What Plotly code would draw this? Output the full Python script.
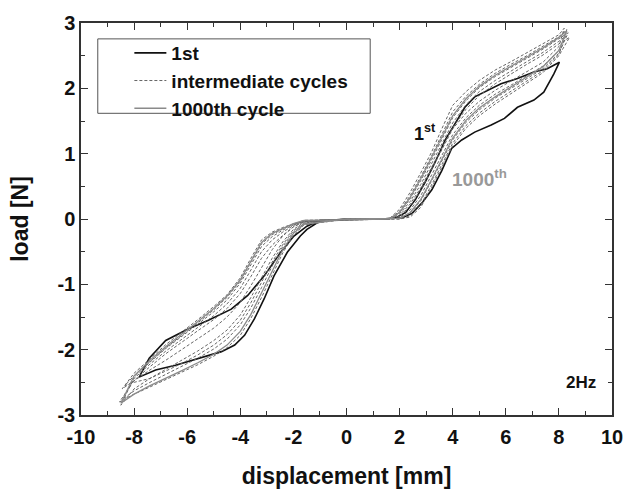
import plotly.graph_objects as go

# ---- data: x grids for the dashed / 1000th loops ----
x_right = [1.6, 2.0, 2.4, 2.8, 3.2, 3.6, 4.0, 4.5, 5.0, 5.6, 6.2, 6.8, 7.4, 8.0]
x_left = [-1.6, -2.0, -2.4, -2.8, -3.2, -3.6, -4.0, -4.5, -5.0, -5.6, -6.2, -6.8, -7.4, -8.0]

x_ticks = [-10, -8, -6, -4, -2, 0, 2, 4, 6, 8, 10]
x_ticklabels = ["-10", "-8", "-6", "-4", "-2", "0", "2", "4", "6", "8", "10"]
y_ticks = [-3, -2, -1, 0, 1, 2, 3]
y_ticklabels = ["-3", "-2", "-1", "0", "1", "2", "3"]

# intermediate cycles (upper/lower branch loads on right and left, tips)
inter_right_upper = [
    [0, 0.15, 0.41, 0.71, 1.02, 1.39, 1.74, 1.95, 2.12, 2.28, 2.41, 2.54, 2.68, 2.82],
    [0, 0.12, 0.36, 0.65, 0.96, 1.30, 1.64, 1.88, 2.06, 2.23, 2.37, 2.50, 2.64, 2.79],
    [0, 0.10, 0.31, 0.59, 0.90, 1.22, 1.55, 1.81, 2.01, 2.18, 2.32, 2.46, 2.60, 2.76],
    [0, 0.08, 0.27, 0.53, 0.84, 1.15, 1.47, 1.75, 1.95, 2.12, 2.27, 2.41, 2.55, 2.72],
    [0, 0.06, 0.23, 0.48, 0.78, 1.09, 1.40, 1.68, 1.89, 2.07, 2.22, 2.37, 2.51, 2.68],
]
inter_right_lower = [
    [0, 0.04, 0.20, 0.44, 0.75, 1.08, 1.38, 1.62, 1.80, 1.97, 2.11, 2.25, 2.40, 2.64],
    [0, 0.02, 0.14, 0.36, 0.66, 0.98, 1.29, 1.55, 1.74, 1.91, 2.05, 2.19, 2.34, 2.58],
    [0, 0.01, 0.09, 0.28, 0.58, 0.90, 1.21, 1.48, 1.67, 1.85, 2.00, 2.14, 2.30, 2.54],
    [0, 0.00, 0.05, 0.22, 0.52, 0.85, 1.16, 1.43, 1.62, 1.80, 1.96, 2.11, 2.27, 2.52],
    [0, 0.00, 0.03, 0.18, 0.48, 0.80, 1.12, 1.39, 1.58, 1.76, 1.92, 2.08, 2.24, 2.50],
]
inter_right_tip = [(8.20, 2.92), (8.30, 2.90), (8.35, 2.85), (8.25, 2.80), (8.40, 2.78)]
inter_left_upper = [
    [-0.02, -0.07, -0.13, -0.20, -0.32, -0.60, -0.90, -1.16, -1.34, -1.54, -1.73, -1.92, -2.14, -2.36],
    [-0.03, -0.09, -0.17, -0.27, -0.42, -0.70, -0.98, -1.24, -1.42, -1.61, -1.80, -1.98, -2.19, -2.42],
    [-0.03, -0.10, -0.20, -0.32, -0.50, -0.78, -1.06, -1.30, -1.48, -1.66, -1.84, -2.02, -2.22, -2.44],
    [-0.04, -0.12, -0.25, -0.40, -0.60, -0.88, -1.14, -1.37, -1.54, -1.71, -1.89, -2.06, -2.26, -2.47],
    [-0.03, -0.08, -0.15, -0.24, -0.38, -0.66, -0.95, -1.20, -1.39, -1.59, -1.78, -1.97, -2.18, -2.40],
]
inter_left_lower = [
    [-0.04, -0.12, -0.26, -0.47, -0.74, -1.02, -1.28, -1.50, -1.67, -1.84, -2.00, -2.16, -2.31, -2.47],
    [-0.05, -0.16, -0.35, -0.60, -0.90, -1.20, -1.47, -1.70, -1.86, -2.02, -2.16, -2.30, -2.44, -2.60],
    [-0.07, -0.20, -0.42, -0.72, -1.05, -1.36, -1.62, -1.84, -1.99, -2.13, -2.26, -2.38, -2.50, -2.63],
    [-0.09, -0.25, -0.52, -0.86, -1.20, -1.52, -1.78, -1.97, -2.10, -2.23, -2.35, -2.46, -2.57, -2.68],
    [-0.06, -0.18, -0.39, -0.66, -0.97, -1.28, -1.55, -1.77, -1.93, -2.08, -2.21, -2.33, -2.44, -2.50],
]
inter_left_tip = [(-8.45, -2.60), (-8.50, -2.85), (-8.40, -2.75), (-8.55, -2.80), (-8.35, -2.55)]

# 1000th cycle
c1000_right_upper = [0, 0.10, 0.33, 0.62, 0.93, 1.26, 1.58, 1.84, 2.03, 2.20, 2.34, 2.48, 2.62, 2.78]
c1000_right_lower = [0, 0.01, 0.10, 0.30, 0.60, 0.93, 1.24, 1.51, 1.70, 1.87, 2.02, 2.17, 2.33, 2.58]
c1000_right_tip = (8.30, 2.88)
c1000_left_upper = [-0.02, -0.07, -0.14, -0.22, -0.36, -0.64, -0.93, -1.18, -1.37, -1.57, -1.76, -1.95, -2.16, -2.40]
c1000_left_lower = [-0.08, -0.22, -0.47, -0.80, -1.13, -1.46, -1.72, -1.93, -2.07, -2.20, -2.32, -2.44, -2.55, -2.68]
c1000_left_tip = (-8.50, -2.82)

# 1st cycle (traced path points)
first_x = [0.0, 0.6, 1.36, 2.11, 2.48, 2.85, 3.22, 3.59, 3.96, 4.34, 4.83, 5.45, 5.95, 6.44, 7.06, 7.43, 7.81, 8.02,
           7.56, 7.06, 6.44, 5.82, 5.33, 4.83, 4.46, 4.09, 3.72, 3.35, 2.97, 2.60, 2.23, 1.86, 1.36, 0.5, -0.4, -1.0,
           -1.49, -1.98, -2.48, -3.10, -3.72, -4.34, -5.20, -5.95, -6.81, -7.43, -7.81,
           -7.19, -6.44, -5.58, -4.71, -4.21, -3.84, -3.47, -3.10, -2.73, -2.23, -1.74, -1.49, -1.0, -0.5, 0.0]
first_y = [0.0, 0.0, 0.0, 0.02, 0.09, 0.25, 0.45, 0.74, 1.08, 1.21, 1.33, 1.44, 1.54, 1.71, 1.82, 1.94, 2.22, 2.40,
           2.30, 2.25, 2.15, 2.07, 1.97, 1.87, 1.71, 1.46, 1.21, 0.88, 0.57, 0.30, 0.10, 0.02, 0.0, 0.0, -0.01, -0.02,
           -0.11, -0.26, -0.51, -0.87, -1.17, -1.38, -1.55, -1.68, -1.86, -2.13, -2.42,
           -2.31, -2.24, -2.14, -2.03, -1.93, -1.78, -1.53, -1.22, -0.87, -0.51, -0.26, -0.16, -0.03, -0.01, 0.0]


def loop_path(ru, rl, rtip, lu, ll, ltip):
    xs = [0.0] + x_right + [rtip[0]] + x_right[::-1] + x_left + [ltip[0]] + x_left[::-1] + [0.0]
    ys = [0.0] + rl + [rtip[1]] + ru[::-1] + lu + [ltip[1]] + ll[::-1] + [0.0]
    return xs, ys


fig = go.Figure()

fig.add_trace(go.Scatter(x=first_x, y=first_y, mode="lines", name="1st",
                         line=dict(color="#111111", width=1.6)))
for i in range(len(inter_right_upper)):
    xs, ys = loop_path(inter_right_upper[i], inter_right_lower[i], inter_right_tip[i],
                       inter_left_upper[i], inter_left_lower[i], inter_left_tip[i])
    fig.add_trace(go.Scatter(x=xs, y=ys, mode="lines", name="intermediate cycles",
                             showlegend=(i == 0), legendgroup="inter",
                             line=dict(color="#666666", width=1, dash="3px,2px")))
xs, ys = loop_path(c1000_right_upper, c1000_right_lower, c1000_right_tip,
                   c1000_left_upper, c1000_left_lower, c1000_left_tip)
fig.add_trace(go.Scatter(x=xs, y=ys, mode="lines", name="1000th cycle",
                         line=dict(color="#8a8a8a", width=1.3)))

fam = "Arial, Liberation Sans, sans-serif"
axis_common = dict(showline=True, linecolor="#333333", linewidth=1.5, mirror="ticks",
                   ticks="inside", ticklen=7, tickwidth=1.2, tickcolor="#333333",
                   showgrid=False, zeroline=False,
                   tickfont=dict(family=fam, size=20, color="#111111", weight="bold"))

fig.update_layout(
    width=635, height=497,
    margin=dict(l=81, r=16, t=22, b=80),
    paper_bgcolor="white", plot_bgcolor="white",
    font=dict(family=fam, color="#111111"),
    xaxis=dict(range=[-10, 10], tickvals=x_ticks, ticktext=x_ticklabels, ticklabelstandoff=3,
               minor=dict(ticks="inside", ticklen=4, tickcolor="#333333", dtick=1),
               title=dict(text="displacement [mm]", font=dict(size=23, weight="bold"), standoff=21),
               **axis_common),
    yaxis=dict(range=[-3, 3], tickvals=y_ticks, ticktext=y_ticklabels,
               minor=dict(ticks="inside", ticklen=4, tickcolor="#333333", dtick=0.5),
               title=dict(text="load [N]", font=dict(size=23, weight="bold"), standoff=22),
               **axis_common),
    legend=dict(x=(130 - 81) / 538, y=0.972, xanchor="left", yanchor="top",
                bgcolor="rgba(0,0,0,0)", borderwidth=0,
                font=dict(size=19, weight="bold", color="#111111"),
                tracegroupgap=0, itemwidth=32),
    shapes=[dict(type="rect", xref="paper", yref="paper",
                 x0=(98 - 81) / 538, x1=(374 - 81) / 538,
                 y0=(417 - 113) / 395, y1=(417 - 38) / 395,
                 line=dict(color="#555555", width=1), fillcolor="rgba(0,0,0,0)")],
    annotations=[
        dict(x=2.95, y=1.33, text="1<sup>st</sup>", showarrow=False,
             font=dict(size=18, weight="bold", color="#111111")),
        dict(x=5.0, y=0.63, text="1000<sup>th</sup>", showarrow=False,
             font=dict(size=19, weight="bold", color="#999999")),
        dict(x=8.82, y=-2.5, text="2Hz", showarrow=False,
             font=dict(size=17, weight="bold", color="#111111")),
    ],
)

fig.write_html("out.html")
